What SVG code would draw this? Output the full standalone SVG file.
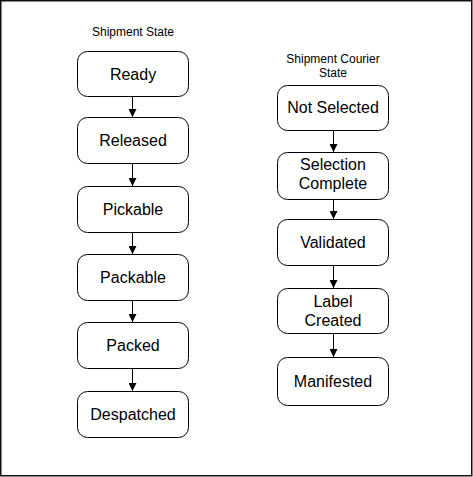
<svg xmlns="http://www.w3.org/2000/svg" width="473" height="477" viewBox="0 0 473 477">
<defs>
<style>
.box{fill:#fff;stroke:#000;stroke-width:1}
.lbl{font-family:"Liberation Sans",Arial,sans-serif;font-size:16px;fill:#000;text-anchor:middle}
.ttl{font-family:"Liberation Sans",Arial,sans-serif;font-size:12px;fill:#000;text-anchor:middle}
.edge{stroke:#000;stroke-width:1;fill:none;marker-end:url(#ah)}
</style>
<marker id="ah" viewBox="0 0 10 10" refX="10" refY="5" markerWidth="12" markerHeight="8" markerUnits="userSpaceOnUse" orient="auto"><path d="M0,0 L10,5 L0,10 Z" fill="#000"/></marker>
</defs>
<rect x="0.75" y="0.75" width="471" height="475" fill="#fff" stroke="#111" stroke-width="1.5"/>
<text class="ttl" x="133" y="36">Shipment State</text>
<text class="ttl" x="333" y="63">Shipment Courier</text>
<text class="ttl" x="333" y="77">State</text>
<g id="connectors">
<path class="edge" d="M132.5,96.5 V117"/>
<path class="edge" d="M132.5,163.5 V186"/>
<path class="edge" d="M132.5,232.5 V254"/>
<path class="edge" d="M132.5,300.5 V322"/>
<path class="edge" d="M132.5,368.5 V391"/>
<path class="edge" d="M333.5,130.5 V152"/>
<path class="edge" d="M333.5,199.5 V219"/>
<path class="edge" d="M333.5,265.5 V288"/>
<path class="edge" d="M333.5,333.5 V357"/>
</g>
<g id="ready"><rect class="box" x="77.5" y="51.5" width="111" height="45" rx="10"/><text class="lbl" x="133" y="80">Ready</text></g>
<g id="released"><rect class="box" x="77.5" y="117.5" width="111" height="46" rx="10"/><text class="lbl" x="133" y="146">Released</text></g>
<g id="pickable"><rect class="box" x="77.5" y="186.5" width="111" height="46" rx="10"/><text class="lbl" x="133" y="215">Pickable</text></g>
<g id="packable"><rect class="box" x="77.5" y="254.5" width="111" height="46" rx="10"/><text class="lbl" x="133" y="283">Packable</text></g>
<g id="packed"><rect class="box" x="77.5" y="322.5" width="111" height="46" rx="10"/><text class="lbl" x="133" y="351">Packed</text></g>
<g id="despatched"><rect class="box" x="77.5" y="391.5" width="111" height="46" rx="10"/><text class="lbl" x="133" y="420">Despatched</text></g>
<g id="not-selected"><rect class="box" x="277.5" y="85.5" width="111" height="45" rx="10"/><text class="lbl" x="333" y="113">Not Selected</text></g>
<g id="selection-complete"><rect class="box" x="277.5" y="152.5" width="111" height="47" rx="10"/><text class="lbl" x="333" y="170">Selection</text><text class="lbl" x="333" y="189">Complete</text></g>
<g id="validated"><rect class="box" x="277.5" y="219.5" width="111" height="46" rx="10"/><text class="lbl" x="333" y="248">Validated</text></g>
<g id="label-created"><rect class="box" x="277.5" y="288.5" width="111" height="45" rx="10"/><text class="lbl" x="333" y="307">Label</text><text class="lbl" x="333" y="326">Created</text></g>
<g id="manifested"><rect class="box" x="277.5" y="357.5" width="111" height="48" rx="10"/><text class="lbl" x="333" y="387">Manifested</text></g>
</svg>
